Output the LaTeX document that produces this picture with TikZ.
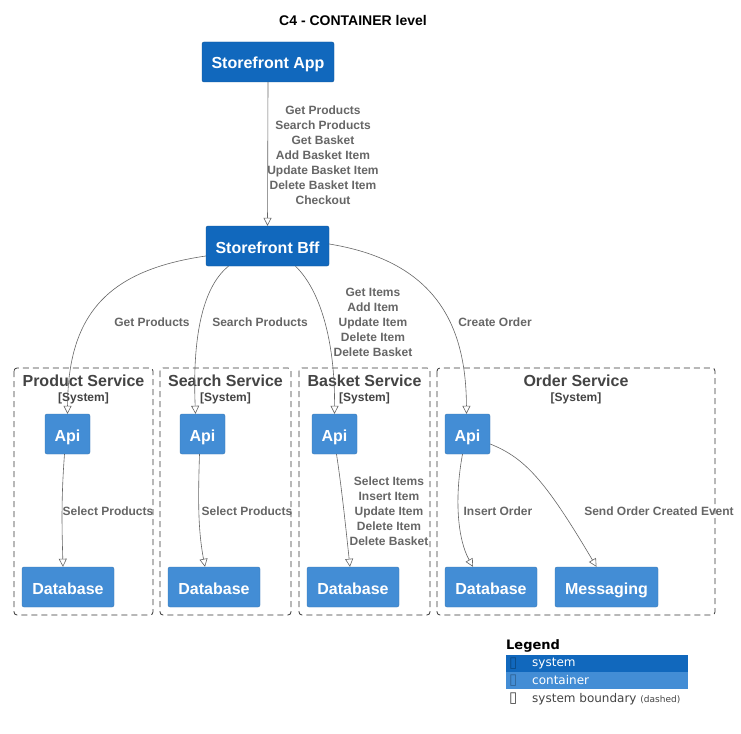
\documentclass[tikz,border=0pt]{standalone}
\usepackage{fontspec}
\setmainfont{Liberation Sans}
\newfontfamily\legendfont{DejaVu Sans}
\usetikzlibrary{arrows.meta,calc,positioning}

\definecolor{c4system}{HTML}{1168BD}
\definecolor{c4container}{HTML}{438DD5}
\definecolor{c4line}{HTML}{666666}
\definecolor{c4text}{HTML}{444444}

\tikzset{
  sysbox/.style={fill=c4system, draw=c4system!80!black, line width=0.4pt, rounded corners=2pt,
    text=white, font=\fontsize{16}{19}\selectfont\bfseries, minimum height=40pt, inner sep=0pt,
    text height=14pt, text depth=0pt},
  ctnbox/.style={fill=c4container, draw=c4container!85!black, line width=0.4pt, rounded corners=2pt,
    text=white, font=\fontsize{16}{19}\selectfont\bfseries, minimum height=40pt, inner sep=0pt,
    text height=14pt, text depth=0pt},
  boundary/.style={draw=c4text!80!black, dash pattern=on 6pt off 4pt, line width=0.8pt, rounded corners=3pt},
  btitle/.style={text=c4text, font=\fontsize{16}{19}\selectfont\bfseries, inner sep=0pt},
  bsub/.style={text=c4text, font=\fontsize{12}{14}\selectfont\bfseries, inner sep=0pt},
  rel/.style={draw=c4line, line width=0.6pt, -{Triangle[open,length=8pt,width=8pt]}},
  rlabel/.style={text=c4line, font=\fontsize{12}{15}\selectfont\bfseries, align=center, inner sep=0pt},
  legrow/.style={minimum width=182pt, minimum height=17pt, inner sep=0pt, anchor=north west},
  legtext/.style={font=\legendfont\fontsize{12}{14}\selectfont, anchor=west, inner sep=0pt},
  legglyph/.style={font=\legendfont\fontsize{15}{17}\selectfont, anchor=west, inner sep=0pt}
}

\begin{document}
\begin{tikzpicture}[x=1pt, y=-1pt]
  \useasboundingbox (0,0) rectangle (741,733);
  \fill[white] (0,0) rectangle (741,733);

  % title
  \node[font=\fontsize{14}{16}\selectfont\bfseries, inner sep=0pt] (title) at (353,20) {C4 - CONTAINER level};

  % top level systems
  \node[sysbox, minimum width=132pt] (app) at (268,62) {Storefront App};
  \node[sysbox, minimum width=123pt] (bff) at (267.5,246) {Storefront Bff};

  % system boundaries
  \draw[boundary] (14,368) rectangle (153,615);
  \draw[boundary] (160,368) rectangle (291,615);
  \draw[boundary] (299,368) rectangle (430,615);
  \draw[boundary] (437,368) rectangle (715,615);
  \node[btitle] (prodtitle) at (83.5,381) {Product Service};
  \node[bsub] (prodsub) at (83.5,398) {[System]};
  \node[btitle] (srchtitle) at (225.5,381) {Search Service};
  \node[bsub] (srchsub) at (225.5,398) {[System]};
  \node[btitle] (baskettitle) at (364.5,381) {Basket Service};
  \node[bsub] (basketsub) at (364.5,398) {[System]};
  \node[btitle] (ordertitle) at (576,381) {Order Service};
  \node[bsub] (ordersub) at (576,398) {[System]};

  % containers
  \node[ctnbox, minimum width=45pt] (prodapi) at (67.5,434) {Api};
  \node[ctnbox, minimum width=45pt] (srchapi) at (202.5,434) {Api};
  \node[ctnbox, minimum width=45pt] (basketapi) at (334.5,434) {Api};
  \node[ctnbox, minimum width=45pt] (orderapi) at (467.5,434) {Api};
  \node[ctnbox, minimum width=92pt] (proddb) at (68,587) {Database};
  \node[ctnbox, minimum width=92pt] (srchdb) at (214,587) {Database};
  \node[ctnbox, minimum width=92pt] (basketdb) at (353,587) {Database};
  \node[ctnbox, minimum width=92pt] (orderdb) at (491,587) {Database};
  \node[ctnbox, minimum width=103pt] (msg) at (606.5,587) {Messaging};

  % relations
  \draw[rel] (app.south) -- (bff.north);
  \draw[rel] ([yshift=-10pt]bff.west) .. controls (110,270) and (68,312) .. (prodapi.north);
  \draw[rel] ([xshift=-39pt]bff.south) .. controls (205,285) and (192,330) .. ([xshift=-7pt]srchapi.north);
  \draw[rel] ([xshift=28pt]bff.south) .. controls (320,290) and (335,340) .. (basketapi.north);
  \draw[rel] ([yshift=2pt]bff.east) .. controls (440,262) and (466,330) .. ([xshift=-1pt]orderapi.north);
  \draw[rel] ([xshift=-3pt]prodapi.south) .. controls (61,500) and (62,530) .. ([xshift=-5pt]proddb.north);
  \draw[rel] ([xshift=-3pt]srchapi.south) .. controls (198,500) and (198,530) .. ([xshift=-9pt]srchdb.north);
  \draw[rel] ([xshift=2pt]basketapi.south) .. controls (342,490) and (346,530) .. ([xshift=-3pt]basketdb.north);
  \draw[rel] ([xshift=-5pt]orderapi.south) .. controls (454,500) and (458,540) .. ([xshift=-18pt]orderdb.north);
  \draw[rel] ([yshift=-10pt]orderapi.east) .. controls (525,458) and (545,480) .. ([xshift=-10pt]msg.north);

  % relation labels
  \node[rlabel] (applbl) at (323,155) {Get Products\\Search Products\\Get Basket\\Add Basket Item\\Update Basket Item\\Delete Basket Item\\Checkout};
  \node[rlabel] (prodlbl) at (152,322) {Get Products};
  \node[rlabel] (srchlbl) at (260,322) {Search Products};
  \node[rlabel] (basketlbl) at (373,322) {Get Items\\Add Item\\Update Item\\Delete Item\\Delete Basket};
  \node[rlabel] (orderlbl) at (495,322) {Create Order};
  \node[rlabel] (proddblbl) at (108,511) {Select Products};
  \node[rlabel] (srchdblbl) at (247,511) {Select Products};
  \node[rlabel] (basketdblbl) at (389,511) {Select Items\\Insert Item\\Update Item\\Delete Item\\Delete Basket};
  \node[rlabel] (orderdblbl) at (498,511) {Insert Order};
  \node[rlabel] (msglbl) at (659,511) {Send Order Created Event};

  % legend
  \node[font=\legendfont\fontsize{13}{15}\selectfont\bfseries, anchor=west, inner sep=0pt] (legend) at (506,646) {Legend};
  \node[legrow, fill=c4system] (legsys) at (506,655) {};
  \node[legrow, fill=c4container] (legctn) at (506,672) {};
  \node[legglyph, text=c4system!70!black] (legsysbox) at (509,663.5) {▯};
  \node[legtext, text=white] (legsystxt) at (532,663.5) {system};
  \node[legglyph, text=c4container!70!black] (legctnbox) at (509,680.5) {▯};
  \node[legtext, text=white] (legctntxt) at (532,680.5) {container};
  \node[legglyph, text=c4text] (legbndbox) at (509,699) {▯};
  \node[legtext, text=c4text] (legbndtxt) at (532,699) {system boundary {\fontsize{9}{10}\selectfont (dashed)}};
\end{tikzpicture}
\end{document}
